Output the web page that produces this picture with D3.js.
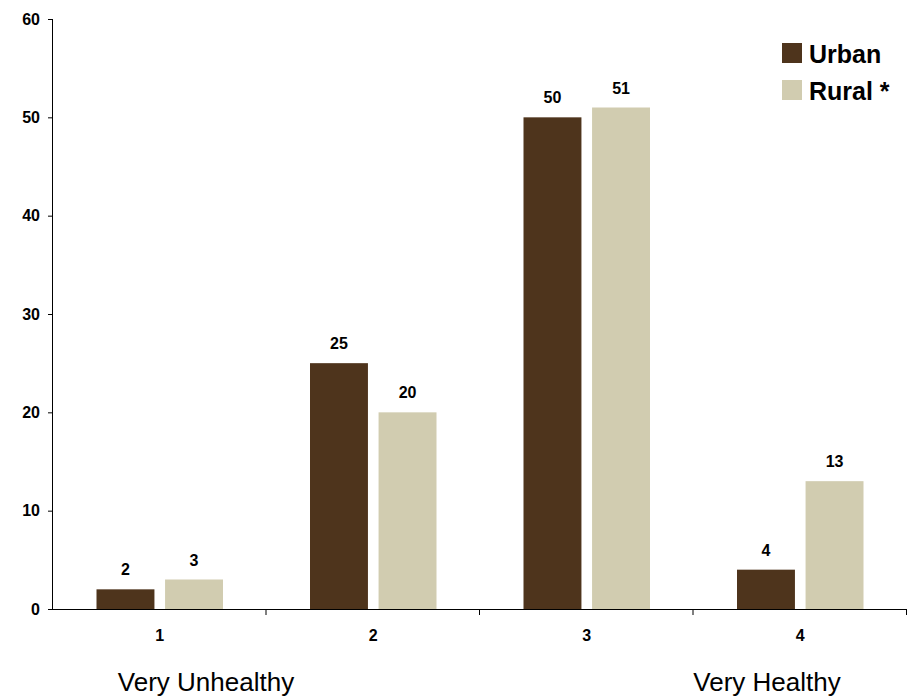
<!DOCTYPE html>
<html><head><meta charset="utf-8">
<script src="https://cdn.jsdelivr.net/npm/d3@7"></script>
<style>body{margin:0;background:#fff}svg{display:block}text{font-family:Arial,"Liberation Sans",sans-serif}</style>
</head><body><svg id="c" width="916" height="698"></svg>
<script>
const categories = ["1","2","3","4"];
const seriesNames = ["Urban","Rural *"];
const urban = [2,25,50,4];
const rural = [3,20,51,13];
const yTicks = [0,10,20,30,40,50,60];
const colors = ["#4E341C","#D1CCB0"];

const svg = d3.select("#c");
const x0 = 53, x1 = 907, yB = 609, yT = 19;
const x = d3.scaleBand().domain(categories).range([x0,x1]).paddingInner(0).paddingOuter(0);
const xs = d3.scaleBand().domain(seriesNames).range([43.5, x.bandwidth()-43.5]).paddingInner(0.155);
const y = d3.scaleLinear().domain([0,60]).range([yB,yT]);

const data = categories.map((c,i)=>({c, vals:[urban[i], rural[i]]}));
const g = svg.append("g");
data.forEach(d=>{
  d.vals.forEach((v,j)=>{
    const bx = x(d.c)+xs(seriesNames[j]);
    g.append("rect").attr("x",bx).attr("y",y(v)).attr("width",xs.bandwidth()).attr("height",y(0)-y(v)).attr("fill",colors[j]);
    g.append("text").attr("x",bx+xs.bandwidth()/2).attr("y",y(v)-14).attr("text-anchor","middle")
      .style("font-size","16px").style("font-weight","bold").text(v);
  });
});

// y axis
const ya = svg.append("g").attr("transform",`translate(${x0},0)`)
  .call(d3.axisLeft(y).tickValues(yTicks).tickSize(5).tickPadding(8));
ya.attr("font-size",null).attr("font-family",null);
ya.select(".domain").attr("stroke","#000").attr("d",`M-0.5,${yB}V${yT}`);
ya.selectAll(".tick line").attr("stroke","#000");
ya.selectAll(".tick text").style("font-size","16px").style("font-weight","bold").attr("fill","#000");

// x axis
const xa = svg.append("g").attr("transform",`translate(0,${yB})`);
xa.append("line").attr("x1",x0-5).attr("x2",x1).attr("y1",0.5).attr("y2",0.5).attr("stroke","#000");
const bounds = categories.map(c=>x(c)+x.bandwidth());
bounds.forEach(b=>xa.append("line").attr("x1",b-0.5).attr("x2",b-0.5).attr("y1",0).attr("y2",6).attr("stroke","#000"));
categories.forEach(c=>xa.append("text").attr("x",x(c)+x.bandwidth()/2).attr("y",32).attr("text-anchor","middle")
  .style("font-size","16px").style("font-weight","bold").text(c));

svg.append("text").attr("x",206).attr("y",691).attr("text-anchor","middle").style("font-size","26px").text("Very Unhealthy");
svg.append("text").attr("x",767).attr("y",691).attr("text-anchor","middle").style("font-size","26px").text("Very Healthy");

// legend
const lg = svg.append("g");
seriesNames.forEach((s,i)=>{
  const yy = 43 + i*37;
  lg.append("rect").attr("x",782).attr("y",yy).attr("width",20).attr("height",20).attr("fill",colors[i]);
  lg.append("text").attr("x",809).attr("y",yy+20).style("font-size","25px").style("font-weight","bold").text(s);
});
</script></body></html>
